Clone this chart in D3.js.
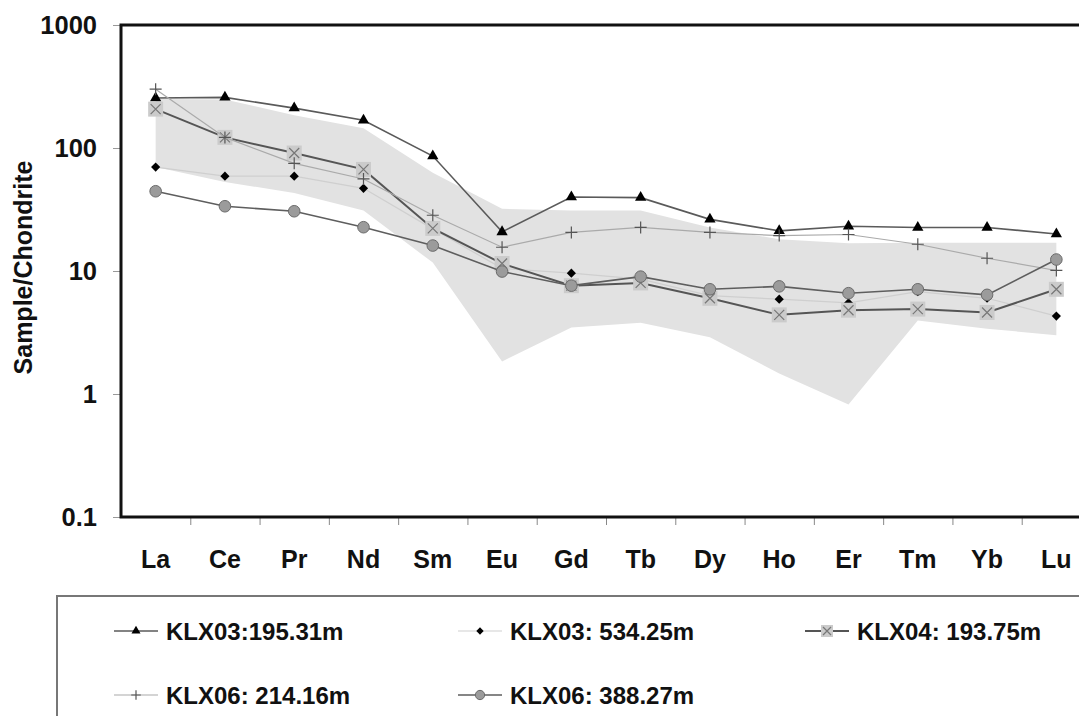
<!DOCTYPE html>
<html>
<head>
<meta charset="utf-8">
<script src="https://cdn.jsdelivr.net/npm/d3@7"></script>
<style>
  body { margin: 0; background: #fff; }
  svg { display: block; font-family: Arial, "Liberation Sans", sans-serif; font-weight: bold; }
</style>
</head>
<body>
<div id="chart"></div>
<script>
// rare earth elements on the x axis
const elements = ['La', 'Ce', 'Pr', 'Nd', 'Sm', 'Eu', 'Gd', 'Tb', 'Dy', 'Ho', 'Er', 'Tm', 'Yb', 'Lu'];
const yTicks = [0.1, 1, 10, 100, 1000];

// chondrite normalised values
const klx03_195 = [255, 258, 211, 168, 86, 20.8, 40, 39.5, 26.3, 21.2, 23.1, 22.6, 22.6, 20];
const klx03_534 = [70, 59, 59, 47, 22, 10.5, 9.6, 8.6, 6.3, 5.9, 5.5, 6.8, 6.0, 4.3];
const klx04_193 = [207, 122, 91, 67, 22.2, 11.5, 7.6, 8.0, 6.0, 4.4, 4.8, 4.9, 4.6, 7.1];
const klx06_214 = [301, 122, 75, 56, 28.4, 15.6, 20.6, 22.6, 20.6, 19.4, 19.8, 16.5, 12.7, 10.1];
const klx06_388 = [44.5, 33.6, 30.6, 22.7, 16.1, 9.9, 7.6, 9.0, 7.1, 7.5, 6.6, 7.1, 6.4, 12.4];

// grey reference field
const fieldUpper = [250, 248, 185, 145, 63, 32, 31, 31, 22.6, 18.1, 16.8, 17, 17, 17];
const fieldLower = [70, 53, 43, 31, 11.7, 1.84, 3.47, 3.8, 2.9, 1.47, 0.82, 3.96, 3.4, 3.0];

const seriesNames = ['KLX03:195.31m', 'KLX03: 534.25m', 'KLX04: 193.75m', 'KLX06: 214.16m', 'KLX06: 388.27m'];

const W = 1079, H = 716;
const plot = {left: 121, top: 25, right: 1091, bottom: 517};

const svg = d3.select('#chart').append('svg')
    .attr('width', W)
    .attr('height', H);

const x = d3.scaleBand().domain(elements).range([plot.left, plot.right]);
const cx = (d) => x(d) + x.bandwidth() / 2;
const y = d3.scaleLog().domain([0.1, 1000]).range([plot.bottom, plot.top]);

// field
const area = d3.area()
    .x((d, i) => cx(elements[i]))
    .y0((d, i) => y(fieldLower[i]))
    .y1((d) => y(d));
svg.append('path')
    .datum(fieldUpper)
    .attr('d', area)
    .attr('fill', '#e2e2e2');

// axes
const yAxis = svg.append('g')
    .attr('transform', `translate(${plot.left},0)`)
    .call(d3.axisLeft(y).tickValues(yTicks).tickFormat(d => String(d)).tickSize(8).tickPadding(16));
yAxis.select('.domain').remove();
yAxis.selectAll('line').attr('stroke', '#999');
yAxis.selectAll('text').attr('font-size', 25.5).attr('fill', '#111').style('font-weight', 'bold');

const idx = d3.scaleLinear().domain([0, elements.length]).range([plot.left, plot.right]);
const xTickAxis = svg.append('g')
    .attr('transform', `translate(0,${plot.bottom})`)
    .call(d3.axisBottom(idx).tickValues(d3.range(1, elements.length)).tickFormat('').tickSize(8));
xTickAxis.select('.domain').remove();
xTickAxis.selectAll('line').attr('stroke', '#888');

const xAxis = svg.append('g')
    .attr('transform', `translate(0,${plot.bottom})`)
    .call(d3.axisBottom(x).tickSize(0).tickPadding(33));
xAxis.select('.domain').remove();
xAxis.selectAll('text').attr('font-size', 25).attr('fill', '#111').style('font-weight', 'bold');

// frame (right side runs past the picture edge)
svg.append('path')
    .attr('d', `M${plot.right},${plot.top}H${plot.left}V${plot.bottom}H${plot.right}`)
    .attr('fill', 'none')
    .attr('stroke', '#111')
    .attr('stroke-width', 3);

svg.append('text')
    .attr('transform', `translate(32,${(158 + 377) / 2}) rotate(-90)`)
    .attr('text-anchor', 'middle')
    .attr('font-size', 25)
    .attr('fill', '#111')
    .text('Sample/Chondrite');

// marker painters
function triangle(g, s) {
    g.append('path').attr('d', d3.symbol(d3.symbolTriangle, 55 * s * s)()).attr('fill', '#000');
}
function diamond(g, s) {
    g.append('path').attr('d', d3.symbol(d3.symbolSquare, 42 * s * s)()).attr('transform', 'rotate(45)').attr('fill', '#000');
}
function xsquare(g, s) {
    const h = 7.5 * s, k = 5 * s;
    g.append('rect').attr('x', -h).attr('y', -h).attr('width', 2 * h).attr('height', 2 * h).attr('fill', '#cbcbcb');
    g.append('path').attr('d', `M${-k},${-k}L${k},${k}M${-k},${k}L${k},${-k}`).attr('stroke', '#777').attr('stroke-width', 1.2);
}
function plus(g, s) {
    const k = 6 * s;
    g.append('path').attr('d', `M${-k},0H${k}M0,${-k}V${k}`).attr('stroke', '#555').attr('stroke-width', 1.2);
}
function circle(g, s) {
    g.append('circle').attr('r', 5.8 * s).attr('fill', '#9b9b9b').attr('stroke', '#6a6a6a').attr('stroke-width', 1);
}

const series = [
    {name: seriesNames[0], values: klx03_195, line: '#5a5a5a', lw: 1.6, mark: triangle},
    {name: seriesNames[1], values: klx03_534, line: '#cfcfcf', lw: 1.2, mark: diamond},
    {name: seriesNames[2], values: klx04_193, line: '#555', lw: 2, mark: xsquare},
    {name: seriesNames[3], values: klx06_214, line: '#aaa', lw: 1.2, mark: plus},
    {name: seriesNames[4], values: klx06_388, line: '#5e5e5e', lw: 1.6, mark: circle}
];

const line = d3.line()
    .x((d, i) => cx(elements[i]))
    .y((d) => y(d));

series.forEach((s) => {
    svg.append('path')
        .datum(s.values)
        .attr('d', line)
        .attr('fill', 'none')
        .attr('stroke', s.line)
        .attr('stroke-width', s.lw);
    s.values.forEach((v, i) => {
        const g = svg.append('g').attr('transform', `translate(${cx(elements[i])},${y(v)})`);
        s.mark(g, 1);
    });
});

// legend
svg.append('path')
    .attr('d', `M${W + 5},596H57V${H + 5}`)
    .attr('fill', 'none')
    .attr('stroke', '#777')
    .attr('stroke-width', 2);

const legendCols = [114, 458, 805];
const legendRows = [631, 695];
series.forEach((s, i) => {
    const lx = legendCols[i % 3], ly = legendRows[Math.floor(i / 3)];
    const g = svg.append('g').attr('transform', `translate(${lx},${ly})`);
    g.append('line').attr('x1', 0).attr('x2', 44).attr('stroke', s.line).attr('stroke-width', s.lw);
    const m = g.append('g').attr('transform', 'translate(22,0)');
    s.mark(m, 0.8);
    g.append('text')
        .attr('x', 52)
        .attr('dy', '0.36em')
        .attr('font-size', 24)
        .attr('fill', '#111')
        .text(s.name);
});
</script>
</body>
</html>
